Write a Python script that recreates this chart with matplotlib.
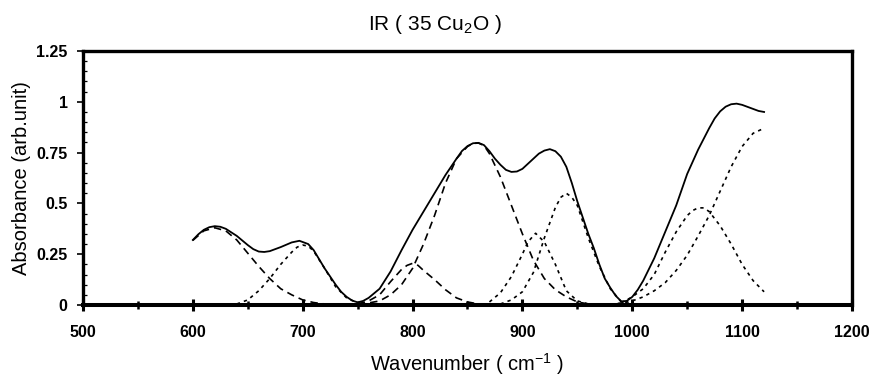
import matplotlib
matplotlib.use("Agg")
import matplotlib.pyplot as plt
from matplotlib.ticker import MultipleLocator

plt.rcParams['font.family'] = ['Liberation Sans', 'DejaVu Sans']

# measured spectrum (solid line)
wn_total = [600, 605, 610, 615, 620, 625, 630, 640, 650, 655, 660, 665, 670, 680, 690, 697,
            705, 710, 715, 720, 725, 730, 735, 740, 745, 750, 755, 760, 770, 780, 790, 800,
            810, 820, 830, 840, 845, 850, 855, 860, 865, 870, 875, 880, 885, 890, 895, 900,
            905, 910, 915, 920, 925, 930, 935, 940, 945, 950, 955, 960, 965, 970, 975, 980,
            985, 990, 995, 1000, 1005, 1010, 1020, 1030, 1040, 1050, 1060, 1070, 1075, 1080,
            1085, 1090, 1095, 1100, 1105, 1110, 1115, 1120]
abs_total = [0.32, 0.348, 0.37, 0.383, 0.388, 0.385, 0.375, 0.34, 0.295, 0.275, 0.263, 0.261, 0.265, 0.285, 0.308, 0.316,
             0.30, 0.27, 0.225, 0.18, 0.14, 0.10, 0.065, 0.04, 0.022, 0.013, 0.02, 0.035, 0.08, 0.165, 0.27, 0.37,
             0.46, 0.55, 0.64, 0.72, 0.758, 0.782, 0.796, 0.798, 0.787, 0.757, 0.72, 0.69, 0.665, 0.655, 0.657, 0.67,
             0.695, 0.72, 0.745, 0.76, 0.767, 0.757, 0.73, 0.68, 0.60, 0.51, 0.43, 0.35, 0.28, 0.20, 0.13, 0.085,
             0.045, 0.018, 0.02, 0.04, 0.075, 0.12, 0.23, 0.36, 0.49, 0.645, 0.765, 0.87, 0.918, 0.953,
             0.976, 0.988, 0.991, 0.985, 0.975, 0.965, 0.955, 0.95]

# fitted bands (dashed lines)
wn_a = [600, 610, 620, 630, 640, 650, 660, 670, 680, 690, 700, 710, 720, 730]
abs_a = [0.318, 0.365, 0.38, 0.365, 0.32, 0.255, 0.19, 0.13, 0.08, 0.05, 0.025, 0.012, 0.005, 0.002]

wn_b = [640, 650, 660, 670, 680, 690, 695, 700, 705, 710, 720, 730, 740, 750, 760]
abs_b = [0.005, 0.025, 0.07, 0.13, 0.2, 0.26, 0.285, 0.295, 0.29, 0.265, 0.18, 0.09, 0.035, 0.01, 0.003]

wn_c = [750, 760, 770, 780, 790, 795, 800, 805, 810, 820, 830, 840, 850, 860]
abs_c = [0.005, 0.02, 0.05, 0.115, 0.175, 0.195, 0.205, 0.195, 0.17, 0.125, 0.075, 0.035, 0.015, 0.005]

wn_d = [750, 760, 770, 780, 790, 800, 810, 820, 830, 840, 850, 855, 860, 865, 870, 880, 890,
        900, 910, 920, 930, 940, 950, 960]
abs_d = [0.005, 0.01, 0.02, 0.05, 0.1, 0.18, 0.3, 0.44, 0.6, 0.72, 0.78, 0.795, 0.797, 0.785, 0.745, 0.63, 0.49,
         0.35, 0.22, 0.13, 0.075, 0.04, 0.015, 0.005]

wn_e = [870, 880, 890, 900, 905, 912, 920, 930, 940, 950, 960]
abs_e = [0.015, 0.06, 0.14, 0.25, 0.31, 0.353, 0.31, 0.2, 0.07, 0.02, 0.005]

wn_f = [880, 890, 900, 910, 920, 930, 935, 940, 945, 950, 960, 970, 980, 990, 1000]
abs_f = [0.005, 0.025, 0.065, 0.16, 0.33, 0.48, 0.53, 0.55, 0.53, 0.49, 0.33, 0.19, 0.08, 0.015, 0.005]

wn_g = [990, 1000, 1010, 1020, 1030, 1040, 1050, 1055, 1060, 1065, 1070, 1080, 1090, 1100, 1110, 1120]
abs_g = [0.01, 0.04, 0.08, 0.15, 0.26, 0.36, 0.44, 0.465, 0.478, 0.478, 0.46, 0.39, 0.3, 0.2, 0.12, 0.065]

wn_h = [980, 990, 1000, 1010, 1020, 1030, 1040, 1050, 1060, 1070, 1080, 1090, 1100, 1110, 1120]
abs_h = [0.003, 0.01, 0.02, 0.04, 0.07, 0.11, 0.17, 0.245, 0.34, 0.44, 0.56, 0.68, 0.78, 0.845, 0.87]

long_dash = (4.5, 3)
short_dash = (2, 2.5)

fig = plt.figure(figsize=(8.69, 3.85), dpi=100)
ax = fig.add_axes([0.0955, 0.2078, 0.8849, 0.6597])

ax.plot(wn_total, abs_total, color='black', lw=1.3)
ax.plot(wn_a, abs_a, color='black', lw=1.2, dashes=long_dash)
ax.plot(wn_b, abs_b, color='black', lw=1.2, dashes=short_dash)
ax.plot(wn_c, abs_c, color='black', lw=1.2, dashes=long_dash)
ax.plot(wn_d, abs_d, color='black', lw=1.2, dashes=long_dash)
ax.plot(wn_e, abs_e, color='black', lw=1.2, dashes=short_dash)
ax.plot(wn_f, abs_f, color='black', lw=1.2, dashes=short_dash)
ax.plot(wn_g, abs_g, color='black', lw=1.2, dashes=short_dash)
ax.plot(wn_h, abs_h, color='black', lw=1.2, dashes=short_dash)

ax.set_xlim(500, 1200)
ax.set_ylim(0, 1.25)
ax.xaxis.set_major_locator(MultipleLocator(100))
ax.xaxis.set_minor_locator(MultipleLocator(50))
ax.yaxis.set_minor_locator(MultipleLocator(0.05))
ax.set_yticks([0, 0.25, 0.5, 0.75, 1, 1.25])
ax.set_yticklabels(['0', '0.25', '0.5', '0.75', '1', '1.25'])

for s in ax.spines.values():
    s.set_linewidth(2.4)
ax.spines['bottom'].set_linewidth(2.9)

ax.tick_params(axis='x', which='major', direction='inout', length=9, width=2.2, pad=10)
ax.tick_params(axis='x', which='minor', direction='inout', length=6, width=1.8)
ax.tick_params(axis='y', which='major', direction='out', length=4, width=1.2, pad=7)
ax.tick_params(axis='y', which='minor', direction='in', length=3, width=0.9)
for lbl in ax.get_xticklabels() + ax.get_yticklabels():
    lbl.set_fontweight('bold')
    lbl.set_fontsize(11.5)

ax.set_xlabel(r'Wavenumber ( cm$^{\mathregular{-1}}$ )', fontsize=14.5, labelpad=8)
ax.set_ylabel('Absorbance (arb.unit)', fontsize=14.5, labelpad=4)
fig.text(0.5, 1 - 30 / 385, r'IR ( 35 Cu$_{\mathregular{2}}$O )', fontsize=15,
         ha='center', va='baseline')

fig.savefig('out.png', dpi=100)
